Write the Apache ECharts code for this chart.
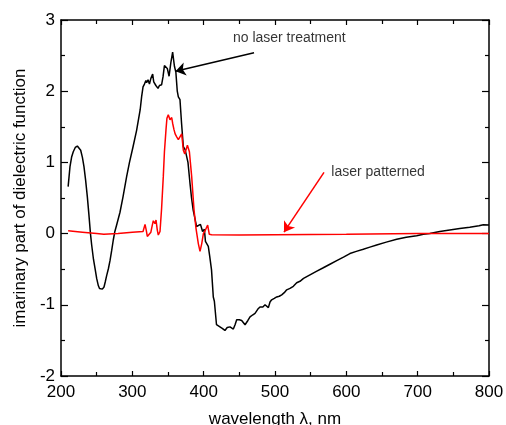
<!DOCTYPE html>
<html><head><meta charset="utf-8">
<script src="https://cdn.jsdelivr.net/npm/echarts@6/dist/echarts.min.js"></script>
<style>html,body{margin:0;padding:0;background:#fff}#c{width:506px;height:425px}</style>
</head><body><div id="c"></div>
<script>
const noLaserX = [210,212.6,215,217.2,220,222.9,225,227.6,230,232.2,234.5,236.9,239,241.3,243,245.5,247.7,250,252.3,254,256,258,260.3,262,264,266.5,268.7,271,273.3,275.5,278,282.7,287,292,296,301,306,311,313,315,317,319,320,322,324,326,328.5,330,333,336,338,341,343,345,347,349,351.5,354,356.5,359,361,363,364.5,366.8,369,371.5,374,376,378,380.8,383,385.3,388,390,392.5,395.5,398.5,401,402.5,404.3,406.5,408.5,411,413.5,415,418,420,422.8,426,429.8,433,436.9,441.6,444,446.3,450,453.3,458,462,465,469,472,476,479,483,486,488,490.7,493,495.3,499,502.4,506,509.4,513,516.4,521,525.7,530.4,535,540,549,558,567.7,577,586.5,596,605,614,623.8,633,642.5,656,670.6,684,698.6,708,717,731,745,759,773,786,792,800];
const noLaserY = [0.66,0.94,1.08,1.15,1.21,1.23,1.22,1.17,1.07,0.94,0.75,0.52,0.28,0.0,-0.16,-0.36,-0.49,-0.63,-0.73,-0.77,-0.79,-0.78,-0.75,-0.68,-0.59,-0.49,-0.38,-0.24,-0.09,0.03,0.12,0.30,0.52,0.80,1.0,1.22,1.45,1.74,1.92,2.06,2.10,2.15,2.12,2.16,2.10,2.18,2.24,2.13,2.08,2.04,2.08,2.09,2.20,2.36,2.38,2.32,2.21,2.40,2.55,2.35,2.27,2.00,1.92,1.88,1.55,1.22,1.18,1.17,1.00,0.71,0.50,0.33,0.20,0.10,0.12,0.13,0.03,0.06,-0.11,-0.09,-0.18,-0.32,-0.51,-0.89,-0.95,-1.28,-1.30,-1.31,-1.33,-1.36,-1.32,-1.31,-1.34,-1.28,-1.21,-1.21,-1.22,-1.28,-1.22,-1.17,-1.14,-1.12,-1.06,-1.03,-1.03,-1.00,-1.01,-1.04,-0.96,-0.93,-0.91,-0.89,-0.88,-0.86,-0.83,-0.79,-0.77,-0.74,-0.69,-0.67,-0.63,-0.58,-0.53,-0.48,-0.43,-0.38,-0.33,-0.28,-0.25,-0.22,-0.19,-0.16,-0.12,-0.08,-0.05,-0.03,-0.01,0.0,0.03,0.05,0.07,0.09,0.11,0.125,0.12];
const patternedX = [210,230,250,260,280,300,315,317.8,319.5,321,323.8,326,328,329.4,331.8,333.2,335,336.4,338.8,341,343.4,345,347.2,348.5,350.4,352.8,355.2,356.5,358.4,360,362.2,364.5,366.8,369.2,371.5,373.5,375.3,377.2,378.5,380,383.2,386.5,389.3,392.5,394.9,397.3,399.6,402,404,405.6,407.9,411.2,450,500,600,700,800];
const patternedY = [0.04,0.02,0.0,-0.01,0.0,0.02,0.03,0.13,0.05,-0.04,-0.02,0.02,0.12,0.18,0.14,0.19,0.05,-0.02,0.03,0.35,0.80,1.15,1.46,1.62,1.67,1.60,1.63,1.55,1.46,1.40,1.36,1.32,1.33,1.40,1.17,1.12,1.10,1.24,1.22,1.15,0.80,0.33,0.07,-0.14,-0.25,-0.14,0.0,0.04,0.03,0.12,-0.01,-0.015,-0.02,-0.015,-0.01,0.0,0.0];
const labelTexts = ['no laser treatment', 'laser patterned'];
const labelPos = [[441, 2.75], [579, 0.87]];
const arrowStart = [[470.6, 2.54], [568.7, 0.86]];
const arrowEnd = [[360.5, 2.28], [512.6, 0.02]];
const arrowColors = ['#000000', '#ff0000'];
const xTicks = [200, 300, 400, 500, 600, 700, 800];
const yTicks = [-2, -1, 0, 1, 2, 3];

const zip = (xs, ys) => xs.map((x, i) => [x, ys[i]]);
const font = '"Liberation Sans", Arial, sans-serif';
const chart = echarts.init(document.getElementById('c'), null, {renderer: 'canvas'});
const axisLine = {show: true, onZero: false, lineStyle: {color: '#000', width: 1.5}};
const baseX = {
  type: 'value', min: xTicks[0], max: xTicks[xTicks.length - 1], interval: 100,
  axisLine: axisLine, splitLine: {show: false},
  axisTick: {inside: true, length: 5, lineStyle: {color: '#000', width: 1.2}},
  minorTick: {show: true, splitNumber: 2, length: 4, lineStyle: {color: '#000', width: 1.2}}
};
const baseY = {
  type: 'value', min: yTicks[0], max: yTicks[yTicks.length - 1], interval: 1,
  axisLine: axisLine, splitLine: {show: false},
  axisTick: {inside: true, length: 7, lineStyle: {color: '#000', width: 1.2}},
  minorTick: {show: true, splitNumber: 2, length: 4, lineStyle: {color: '#000', width: 1.2}}
};
chart.setOption({
  animation: false,
  backgroundColor: '#fff',
  textStyle: {fontFamily: font},
  grid: {left: 61, right: 17, top: 20, bottom: 49, containLabel: false, outerBoundsMode: 'none'},
  xAxis: [
    Object.assign({}, baseX, {
      position: 'bottom',
      name: 'wavelength \u03bb, nm', nameLocation: 'middle', nameGap: 35,
      nameTextStyle: {fontSize: 17, color: '#000', fontFamily: font},
      axisLabel: {fontSize: 17, color: '#000', margin: 8, fontFamily: font}
    }),
    Object.assign({}, baseX, {position: 'top', axisLabel: {show: false}})
  ],
  yAxis: [
    Object.assign({}, baseY, {
      position: 'left',
      name: 'imarinary part of dielectric function', nameLocation: 'middle', nameGap: 31,
      nameTextStyle: {fontSize: 17, color: '#000', fontFamily: font},
      axisLabel: {fontSize: 17, color: '#000', margin: 6, fontFamily: font}
    }),
    Object.assign({}, baseY, {position: 'right', axisLabel: {show: false}})
  ],
  series: [
    {
      type: 'line', data: zip(patternedX, patternedY), showSymbol: false, symbol: 'none',
      lineStyle: {color: '#ff0000', width: 1.5}, z: 3, silent: true
    },
    {
      type: 'line', data: zip(noLaserX, noLaserY), showSymbol: false, symbol: 'none',
      lineStyle: {color: '#000000', width: 1.5}, z: 2, silent: true
    },
    {
      type: 'scatter', symbolSize: 0, silent: true,
      data: labelPos.map((p, i) => ({value: p, name: labelTexts[i]})),
      label: {show: true, position: 'right', distance: 0, formatter: p => p.name,
        fontSize: 14, color: '#000', fontFamily: font},
      markLine: {
        silent: true, symbol: ['none', 'arrow'], symbolSize: 10, precision: 3,
        label: {show: false},
        data: arrowStart.map((s, i) => [
          {coord: s, lineStyle: {color: arrowColors[i], width: 1.5, type: 'solid'}},
          {coord: arrowEnd[i]}
        ])
      }
    }
  ]
});
</script></body></html>
